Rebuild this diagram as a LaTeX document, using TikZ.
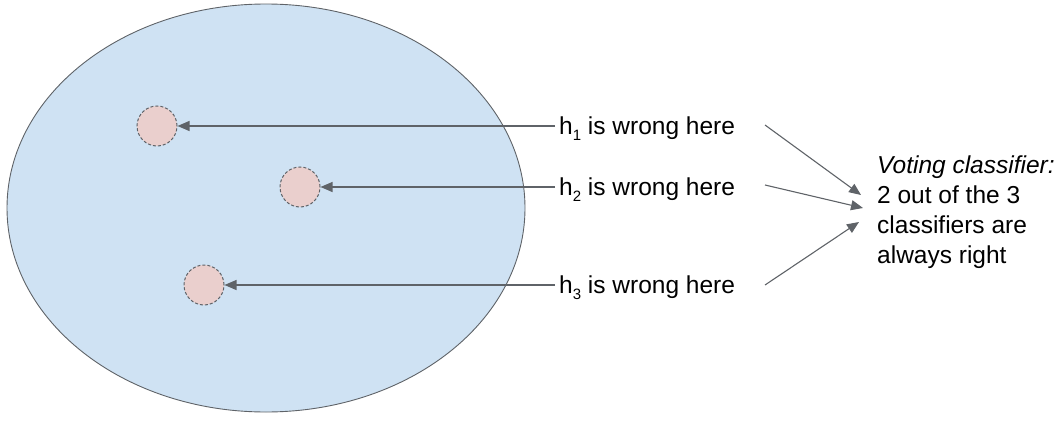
\documentclass[tikz,border=0pt]{standalone}
\usepackage{fontspec}
\setmainfont{Liberation Sans}
\usetikzlibrary{arrows.meta}
\definecolor{regionblue}{HTML}{CFE2F3}
\definecolor{errpink}{HTML}{EACFCD}
\definecolor{linegray}{HTML}{5F6368}
\newcommand{\hsub}[1]{h\raisebox{-6pt}{\fontsize{15}{15}\selectfont #1}}

\begin{document}
\begin{tikzpicture}[x=1pt, y=-1pt,
        arr/.style={draw=linegray, line width=1.1pt, -{Triangle[length=12pt, width=10pt]}},
        errspot/.style={circle, minimum size=40pt, inner sep=0pt, fill=errpink, draw=linegray, line width=1pt, dash pattern=on 3pt off 2pt},
        lbl/.style={anchor=west, inner sep=4pt, font=\fontsize{24.5}{29}\selectfont}]
        \useasboundingbox (0, 0) rectangle (1059, 420);

        \draw[fill=regionblue, draw=linegray, line width=0.9pt] (266, 208) ellipse [x radius=259, y radius=204];

        \node[errspot] (c1) at (157, 126) {};
        \node[errspot] (c2) at (300, 187) {};
        \node[errspot] (c3) at (204, 285) {};

        \node[lbl] (l1) at (555, 129) {\hsub{1} is wrong here};
        \node[lbl] (l2) at (555, 190) {\hsub{2} is wrong here};
        \node[lbl] (l3) at (555, 288) {\hsub{3} is wrong here};

        \draw[arr] (l1.west |- c1) -- (c1.east);
        \draw[arr] (l2.west |- c2) -- (c2.east);
        \draw[arr] (l3.west |- c3) -- (c3.east);

        \node[anchor=north west, inner sep=0pt, align=left, font=\fontsize{24.5}{30}\selectfont] (vote) at (877, 156)
            {\textit{Voting classifier:}\\2 out of the 3\\classifiers are\\always right};

        \coordinate (s1) at (765, 125);
        \coordinate (s2) at (765, 185);
        \coordinate (s3) at (765, 285);
        \coordinate (t1) at (861, 195);
        \coordinate (t2) at (863, 208);
        \coordinate (t3) at (859, 222);

        \draw[arr] (s1) -- (t1);
        \draw[arr] (s2) -- (t2);
        \draw[arr] (s3) -- (t3);
    \end{tikzpicture}
\end{document}
